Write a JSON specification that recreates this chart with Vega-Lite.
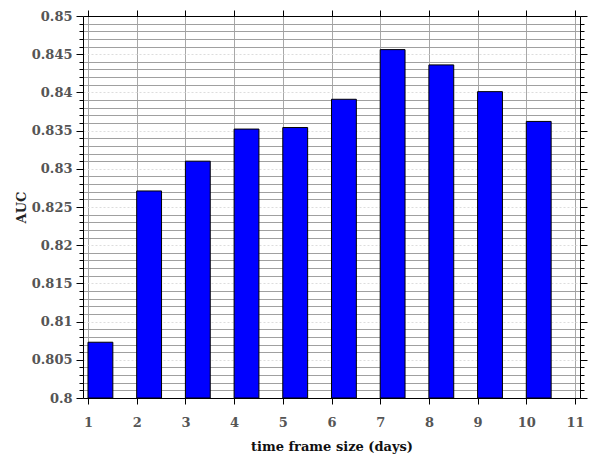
{
  "$schema": "https://vega.github.io/schema/vega-lite/v6.json",
  "width": 497,
  "height": 382,
  "autosize": {"type": "none"},
  "padding": {"left": 83, "top": 16, "right": 21, "bottom": 58},
  "background": "white",
  "config": {"view": {"stroke": null}},
  "data": {
    "values": [
      {"days": 1, "auc": 0.8073},
      {"days": 2, "auc": 0.8271},
      {"days": 3, "auc": 0.8310},
      {"days": 4, "auc": 0.8352},
      {"days": 5, "auc": 0.8354},
      {"days": 6, "auc": 0.8391},
      {"days": 7, "auc": 0.8456},
      {"days": 8, "auc": 0.8436},
      {"days": 9, "auc": 0.8401},
      {"days": 10, "auc": 0.8362}
    ]
  },
  "layer": [
    {
      "mark": {"type": "bar", "fill": "#0000ff", "stroke": "#000000", "strokeWidth": 1, "width": 24.85, "xOffset": 12.42},
      "encoding": {
        "x": {
          "field": "days", "type": "quantitative",
          "scale": {"domain": [1, 11], "nice": false, "zero": false},
          "axis": {
            "orient": "bottom",
            "values": [1, 2, 3, 4, 5, 6, 7, 8, 9, 10, 11],
            "format": "d",
            "grid": true, "gridColor": "#a8a8a8", "gridWidth": 1,
            "domainColor": "#000000", "tickColor": "#000000", "tickSize": 6,
            "labelFont": "DejaVu Serif", "labelFontWeight": "bold", "labelFontSize": 13, "labelColor": "#555555", "labelPadding": 12,
            "title": "time frame size (days)",
            "titleFont": "DejaVu Serif", "titleFontWeight": "bold", "titleFontSize": 13, "titleColor": "#111111", "titlePadding": 11
          }
        },
        "y": {
          "field": "auc", "type": "quantitative",
          "scale": {"domain": [0.8, 0.85], "nice": false, "zero": false},
          "axis": {
            "orient": "left",
            "values": [0.8, 0.801, 0.802, 0.803, 0.804, 0.805, 0.806, 0.807, 0.808, 0.809, 0.81, 0.811, 0.812, 0.813, 0.814, 0.815, 0.816, 0.817, 0.818, 0.819, 0.82, 0.821, 0.822, 0.823, 0.824, 0.825, 0.826, 0.827, 0.828, 0.829, 0.83, 0.831, 0.832, 0.833, 0.834, 0.835, 0.836, 0.837, 0.838, 0.839, 0.84, 0.841, 0.842, 0.843, 0.844, 0.845, 0.846, 0.847, 0.848, 0.849, 0.85],
            "labelExpr": "round(datum.value * 1000) % 5 === 0 ? format(datum.value, '~g') : ''",
            "labelOverlap": false,
            "grid": true,
            "gridColor": {"condition": {"test": "round(datum.value * 1000) % 5 === 0", "value": "#dddddd"}, "value": "#a0a0a0"},
            "gridDash": {"condition": {"test": "round(datum.value * 1000) % 5 === 0", "value": [2, 2]}, "value": []},
            "domainColor": "#000000", "tickColor": "#000000",
            "tickSize": {"condition": {"test": "round(datum.value * 1000) % 5 === 0", "value": 7}, "value": 4},
            "labelFont": "DejaVu Serif", "labelFontWeight": "bold", "labelFontSize": 13, "labelColor": "#555555", "labelPadding": 4,
            "title": "AUC",
            "titleFont": "DejaVu Serif", "titleFontWeight": "bold", "titleFontSize": 13, "titleColor": "#222222", "titlePadding": 3
          }
        },
        "y2": {"datum": 0.8}
      }
    },
    {
      "mark": {"type": "bar", "opacity": 0, "width": 1},
      "encoding": {
        "x": {
          "field": "days", "type": "quantitative",
          "scale": {"domain": [1, 11], "nice": false, "zero": false},
          "axis": {
            "orient": "top",
            "values": [1, 2, 3, 4, 5, 6, 7, 8, 9, 10, 11],
            "labels": false, "grid": false, "title": null,
            "domainColor": "#000000", "tickColor": "#000000", "tickSize": 6
          }
        },
        "y": {
          "field": "auc", "type": "quantitative",
          "scale": {"domain": [0.8, 0.85], "nice": false, "zero": false},
          "axis": {
            "orient": "right",
            "values": [0.8, 0.801, 0.802, 0.803, 0.804, 0.805, 0.806, 0.807, 0.808, 0.809, 0.81, 0.811, 0.812, 0.813, 0.814, 0.815, 0.816, 0.817, 0.818, 0.819, 0.82, 0.821, 0.822, 0.823, 0.824, 0.825, 0.826, 0.827, 0.828, 0.829, 0.83, 0.831, 0.832, 0.833, 0.834, 0.835, 0.836, 0.837, 0.838, 0.839, 0.84, 0.841, 0.842, 0.843, 0.844, 0.845, 0.846, 0.847, 0.848, 0.849, 0.85],
            "labels": false, "grid": false, "title": null,
            "domainColor": "#000000", "tickColor": "#000000",
            "tickSize": {"condition": {"test": "round(datum.value * 1000) % 5 === 0", "value": 7}, "value": 4}
          }
        },
        "y2": {"datum": 0.8}
      }
    }
  ],
  "resolve": {"axis": {"x": "independent", "y": "independent"}}
}
